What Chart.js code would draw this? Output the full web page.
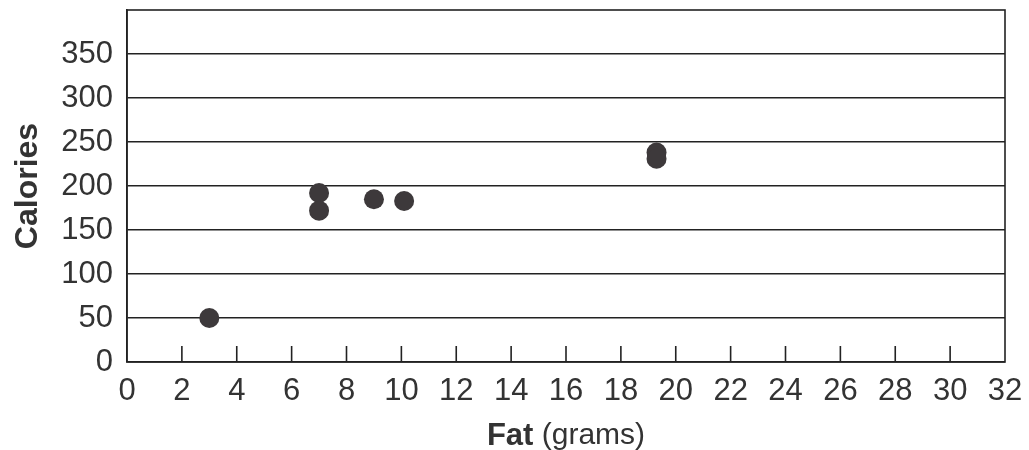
<!DOCTYPE html>
<html>
<head>
<meta charset="utf-8">
<script src="https://cdn.jsdelivr.net/npm/chart.js@4"></script>
<style>
  body { margin: 0; background: #fff; }
</style>
</head>
<body>
<canvas id="fat-chart" width="1029" height="450"></canvas>
<script>
// values
const fatGrams = [3, 7, 7, 9, 10.1, 19.3, 19.3];
const calories = [50, 192, 172, 185, 183, 238, 231];
const xTickValues = [0, 2, 4, 6, 8, 10, 12, 14, 16, 18, 20, 22, 24, 26, 28, 30, 32];
const yTickValues = [0, 50, 100, 150, 200, 250, 300, 350];
const yTop = 400;

const ink = '#222';
const textColor = '#333';
const fontFamily = "'Liberation Sans', Arial, Helvetica, sans-serif";

// box round the plot and the short inner ticks on the x axis
const frame = {
    id: 'frame',
    afterDraw(chart) {
        const ctx = chart.ctx;
        const area = chart.chartArea;
        const xScale = chart.scales.x;
        ctx.save();
        ctx.strokeStyle = ink;
        ctx.lineWidth = 1.6;
        ctx.strokeRect(area.left, area.top, area.right - area.left, area.bottom - area.top);
        ctx.beginPath();
        xTickValues.forEach(function (v) {
            if (v === xScale.min || v === xScale.max) return;
            const px = xScale.getPixelForValue(v);
            ctx.moveTo(px, area.bottom);
            ctx.lineTo(px, area.bottom - 16);
        });
        ctx.stroke();

        // x title: "Fat" in bold, "(grams)" normal
        const boldPart = 'Fat';
        const plainPart = ' (grams)';
        ctx.fillStyle = textColor;
        ctx.textBaseline = 'middle';
        ctx.textAlign = 'left';
        ctx.font = 'bold 31px ' + fontFamily;
        const w1 = ctx.measureText(boldPart).width;
        ctx.font = '30px ' + fontFamily;
        const w2 = ctx.measureText(plainPart).width;
        const startX = (area.left + area.right) / 2 - (w1 + w2) / 2;
        const ty = area.bottom + 74;
        ctx.font = 'bold 31px ' + fontFamily;
        ctx.fillText(boldPart, startX, ty);
        ctx.font = '30px ' + fontFamily;
        ctx.fillText(plainPart, startX + w1, ty);
        ctx.restore();
    }
};

const ctx = document.getElementById('fat-chart');
const fatChart = new Chart(ctx, {
    type: 'scatter',
    data: {
        datasets: [
            {
                data: fatGrams.map(function (x, i) { return { x: x, y: calories[i] }; }),
                backgroundColor: '#3d393b',
                borderColor: '#3d393b',
                borderWidth: 0,
                pointRadius: 10,
                pointHoverRadius: 10
            }
        ]
    },
    options: {
        responsive: false,
        animation: false,
        layout: {
            padding: { top: 9, right: 24, left: 0, bottom: 0 }
        },
        plugins: {
            legend: { display: false },
            tooltip: { enabled: false }
        },
        scales: {
            x: {
                type: 'linear',
                min: xTickValues[0],
                max: xTickValues[xTickValues.length - 1],
                afterBuildTicks: function (scale) {
                    scale.ticks = xTickValues.map(function (v) { return { value: v }; });
                },
                ticks: {
                    color: textColor,
                    font: { family: fontFamily, size: 31 },
                    padding: 11,
                    maxRotation: 0,
                    autoSkip: false
                },
                grid: { display: false, drawTicks: false },
                border: { display: false },
                afterFit: function (scale) {
                    scale.height = 88;
                    scale.paddingLeft = 0;
                    scale.paddingRight = 0;
                }
            },
            y: {
                min: 0,
                max: yTop,
                afterBuildTicks: function (scale) {
                    scale.ticks = yTickValues.map(function (v) { return { value: v }; });
                },
                ticks: {
                    color: textColor,
                    font: { family: fontFamily, size: 31 },
                    padding: 14
                },
                grid: { color: ink, lineWidth: 1.6, drawTicks: false },
                border: { color: ink, width: 1.6 },
                title: {
                    display: true,
                    text: 'Calories',
                    color: textColor,
                    font: { family: fontFamily, size: 32, weight: 'bold' },
                    padding: { top: 9, bottom: 0 }
                },
                afterFit: function (scale) {
                    scale.width = 127;
                    scale.paddingTop = 0;
                    scale.paddingBottom = 0;
                }
            }
        }
    },
    plugins: [frame]
});
</script>
</body>
</html>
